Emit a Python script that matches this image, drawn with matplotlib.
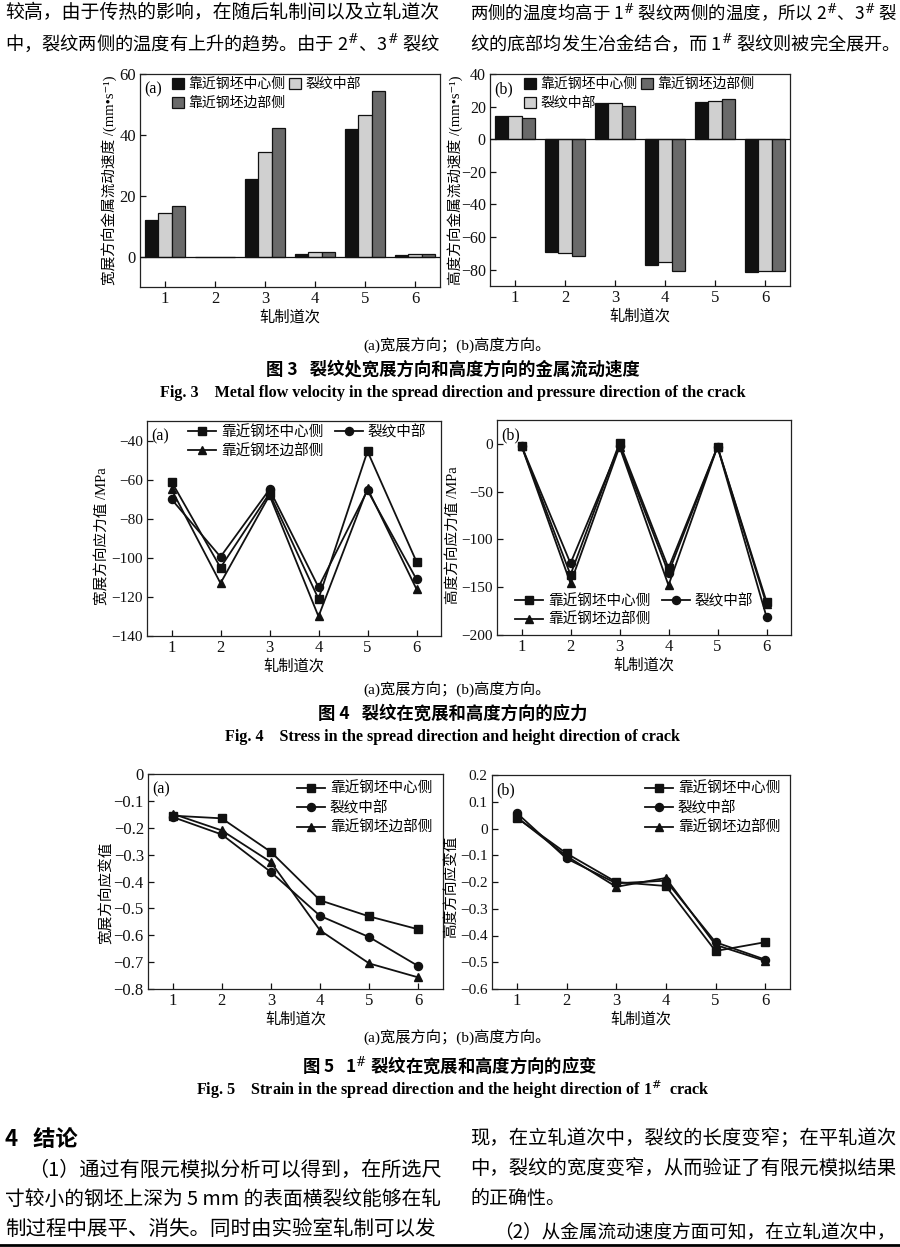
import matplotlib
matplotlib.use("Agg")
import matplotlib.pyplot as plt
import numpy as np
from matplotlib.ticker import FuncFormatter
from matplotlib.patches import Patch
from matplotlib.lines import Line2D

# ---------------- data ----------------
passes = [1, 2, 3, 4, 5, 6]
series_names = ['靠近钢坯中心侧', '裂纹中部', '靠近钢坯边部侧']

# Fig.3 metal flow velocity (mm/s)
vel_spread_center = [12.0, 0.0, 25.5, 1.0, 42.0, 0.5]
vel_spread_mid = [14.3, 0.0, 34.3, 1.4, 46.5, 0.8]
vel_spread_edge = [16.5, 0.0, 42.2, 1.4, 54.3, 0.7]
vel_height_center = [14.0, -69.0, 22.0, -77.0, 23.0, -81.5]
vel_height_mid = [14.0, -69.5, 22.5, -75.5, 23.5, -80.5]
vel_height_edge = [13.3, -71.5, 20.3, -81.0, 24.5, -80.5]

# Fig.4 stress (MPa)
stress_spread_center = [-61, -105, -67, -121, -45.5, -102]
stress_spread_mid = [-70, -99.5, -65, -115, -65.5, -111]
stress_spread_edge = [-65, -113, -68, -130, -64.5, -116]
stress_height_center = [-2, -137, 1, -130, -3, -165]
stress_height_mid = [-2, -125, -2, -135, -3, -181]
stress_height_edge = [-2, -146, -3, -148, -3, -168]

# Fig.5 strain
strain_spread_center = [-0.155, -0.165, -0.29, -0.47, -0.53, -0.578]
strain_spread_mid = [-0.16, -0.225, -0.365, -0.528, -0.607, -0.715]
strain_spread_edge = [-0.148, -0.21, -0.328, -0.582, -0.705, -0.757]
strain_height_center = [0.04, -0.093, -0.2, -0.215, -0.458, -0.425]
strain_height_mid = [0.058, -0.112, -0.205, -0.195, -0.425, -0.49]
strain_height_edge = [0.042, -0.103, -0.218, -0.185, -0.435, -0.495]

xlabel_text = '轧制道次'

# ---------------- style ----------------
W, H = 900, 1247
SERIF = ['Liberation Serif', 'Noto Sans CJK SC', 'DejaVu Sans']
CJK = ['Noto Sans CJK SC', 'DejaVu Sans']
plt.rcParams['font.family'] = SERIF
plt.rcParams['axes.unicode_minus'] = True
plt.rcParams['mathtext.fontset'] = 'dejavuserif'

fig = plt.figure(figsize=(W / 100, H / 100), dpi=100)
fig.patch.set_facecolor('white')


def px_axes(x0, y0, x1, y1):
    return fig.add_axes([x0 / W, 1 - y1 / H, (x1 - x0) / W, (y1 - y0) / H])


def fmt(v, p):
    s = '%g' % round(v, 3)
    return s.replace('-', '\u2212')


def style_axes(ax, ylim, yticks, ylab, ylab_x, ylab_y, xlab_y, label, tsize=12):
    ax.set_xlim(0.5, 6.5)
    ax.set_ylim(*ylim)
    ax.set_xticks(passes)
    ax.set_yticks(yticks)
    ax.yaxis.set_major_formatter(FuncFormatter(fmt))
    ax.tick_params(direction='in', length=4, width=0.9, labelsize=12,
                   top=False, right=False, pad=3, colors='#111111')
    ax.tick_params(axis='y', labelsize=tsize)
    for s in ax.spines.values():
        s.set_linewidth(0.9)
        s.set_color('#222222')
    ax.set_ylabel(ylab, fontsize=10.5, family=SERIF)
    ax.yaxis.set_label_coords(ylab_x, ylab_y)
    ax.set_xlabel(xlabel_text, fontsize=11, family=CJK)
    ax.xaxis.set_label_coords(0.5, xlab_y)
    ax.text(0.015, 0.965, label, transform=ax.transAxes, ha='left', va='top',
            fontsize=11.5, family=SERIF)


bar_colors = ['#111111', '#d0d0d0', '#6a6a6a']
bar_w = 0.267
x = np.array(passes, dtype=float)


def bar_panel(ax, series):
    for i, (vals, c) in enumerate(zip(series, bar_colors)):
        ax.bar(x + (i - 1) * bar_w, vals, width=bar_w, color=c,
               edgecolor='#111111', linewidth=0.9, zorder=2)
    ax.axhline(0, color='#111111', lw=0.9, zorder=3)


def bar_handles():
    return [Patch(facecolor=c, edgecolor='#111111', linewidth=0.9) for c in bar_colors]


markers = ['s', 'o', '^']


def line_panel(ax, series):
    for vals, m in zip(series, markers):
        ax.plot(x, vals, color='#111111', lw=1.3, marker=m, markersize=5.8,
                markerfacecolor='#111111', markeredgecolor='#111111', zorder=3)


def line_handles():
    return [Line2D([0], [0], color='#111111', lw=1.3, marker=m, markersize=5.8)
            for m in markers]


def place_legend(ax, handles, labels, fx, fy, ncol, fs, **kw):
    lg = ax.legend(handles, labels, loc='upper left',
                   bbox_to_anchor=(fx / W, 1 - fy / H), bbox_transform=fig.transFigure,
                   ncol=ncol, frameon=False, borderpad=0, borderaxespad=0,
                   prop={'family': CJK, 'size': fs}, **kw)
    return lg


# ---------------- Fig 3 ----------------
ax = px_axes(140, 74, 440, 287)
bar_panel(ax, [vel_spread_center, vel_spread_mid, vel_spread_edge])
style_axes(ax, (-10, 60), [0, 20, 40, 60], '宽展方向金属流动速度 /(mm•s⁻¹)',
           -0.078, 0.5, -0.1, '(a)')
h = bar_handles()
place_legend(ax, [h[0], h[2], h[1]], [series_names[0], series_names[2], series_names[1]],
             172, 77, 2, 10, handlelength=0.85, handleheight=0.85,
             handletextpad=0.3, columnspacing=0.3, labelspacing=0.35)

ax = px_axes(490, 74, 790, 286)
bar_panel(ax, [vel_height_center, vel_height_mid, vel_height_edge])
style_axes(ax, (-90, 40), [-80, -60, -40, -20, 0, 20, 40], '高度方向金属流动速度 /(mm•s⁻¹)',
           -0.09, 0.5, -0.1, '(b)', tsize=11.5)
place_legend(ax, h, series_names, 524, 77, 2, 10, handlelength=0.85, handleheight=0.85,
             handletextpad=0.3, columnspacing=0.3, labelspacing=0.35)

# ---------------- Fig 4 ----------------
ax = px_axes(147, 421, 441, 636)
line_panel(ax, [stress_spread_center, stress_spread_mid, stress_spread_edge])
style_axes(ax, (-140, -30), [-140, -120, -100, -80, -60, -40], '宽展方向应力值 /MPa',
           -0.126, 0.465, -0.1, '(a)', tsize=11)
lh = line_handles()
place_legend(ax, [lh[0], lh[2], lh[1]], [series_names[0], series_names[2], series_names[1]],
             188, 425, 2, 10.5, handlelength=1.9, handletextpad=0.35,
             columnspacing=0.8, labelspacing=0.35)

ax = px_axes(497, 420, 791, 635)
line_panel(ax, [stress_height_center, stress_height_mid, stress_height_edge])
style_axes(ax, (-200, 25), [-200, -150, -100, -50, 0], '高度方向应力值 /MPa',
           -0.128, 0.465, -0.1, '(b)', tsize=11)
place_legend(ax, [lh[0], lh[2], lh[1]], [series_names[0], series_names[2], series_names[1]],
             515, 594, 2, 10.5, handlelength=1.9, handletextpad=0.35,
             columnspacing=0.8, labelspacing=0.3)

# ---------------- Fig 5 ----------------
ax = px_axes(148, 774, 443, 989)
line_panel(ax, [strain_spread_center, strain_spread_mid, strain_spread_edge])
style_axes(ax, (-0.8, 0), [-0.8, -0.7, -0.6, -0.5, -0.4, -0.3, -0.2, -0.1, 0],
           '宽展方向应变值', -0.115, 0.447, -0.1, '(a)')
place_legend(ax, lh, series_names, 297, 782, 1, 10.5, handlelength=1.9,
             handletextpad=0.35, labelspacing=0.35)

ax = px_axes(492, 775, 790, 989)
line_panel(ax, [strain_height_center, strain_height_mid, strain_height_edge])
style_axes(ax, (-0.6, 0.2), [-0.6, -0.5, -0.4, -0.3, -0.2, -0.1, 0, 0.1, 0.2],
           '高度方向应变值', -0.113, 0.477, -0.1, '(b)', tsize=11)
place_legend(ax, lh, series_names, 645, 782, 1, 10.5, handlelength=1.9,
             handletextpad=0.35, labelspacing=0.35)

# ---------------- captions ----------------
def ftext(xp, yp, s, **kw):
    return fig.text(xp / W, 1 - yp / H, s, **kw)


for cy, zh, en in [
    (346, '图 3   裂纹处宽展方向和高度方向的金属流动速度',
     'Fig. 3    Metal flow velocity in the spread direction and pressure direction of the crack'),
    (690, '图 4   裂纹在宽展和高度方向的应力',
     'Fig. 4    Stress in the spread direction and height direction of crack'),
]:
    ftext(457, cy, '(a)宽展方向；(b)高度方向。', ha='center', va='center', fontsize=11, family=SERIF)
    ftext(453, cy + 24, zh, ha='center', va='center', fontsize=12.5, family=CJK, weight='bold')
    ftext(453, cy + 47, en, ha='center', va='center', fontsize=11.6, family=SERIF, weight='bold')

ftext(457, 1038, '(a)宽展方向；(b)高度方向。', ha='center', va='center', fontsize=11, family=SERIF)
ftext(450, 1066, '图 5   1$^{\\#}$ 裂纹在宽展和高度方向的应变', ha='center', va='center',
      fontsize=12.5, family='Noto Sans CJK SC', weight='bold')
ftext(453, 1090, 'Fig. 5    Strain in the spread direction and the height direction of 1$^{\\#}$  crack',
      ha='center', va='center', fontsize=11.6, family='Liberation Serif', weight='bold')

# ---------------- body text ----------------
BFS = 13.7
body = [
    # x, y, text, target width (None = natural)
    (5, 13, '较高，由于传热的影响，在随后轧制间以及立轧道次', 435),
    (5, 43, '中，裂纹两侧的温度有上升的趋势。由于 2$^{\\#}$、3$^{\\#}$ 裂纹', 435),
    (470, 13, '两侧的温度均高于 1$^{\\#}$ 裂纹两侧的温度，所以 2$^{\\#}$、3$^{\\#}$ 裂', 427),
    (470, 43, '纹的底部均发生冶金结合，而 1$^{\\#}$ 裂纹则被完全展开。', 420),
    (28, 1170, '（1）通过有限元模拟分析可以得到，在所选尺', 412),
    (5, 1199, '寸较小的钢坯上深为 5 mm 的表面横裂纹能够在轧', 435),
    (5, 1229, '制过程中展平、消失。同时由实验室轧制可以发', 435),
    (470, 1138, '现，在立轧道次中，裂纹的长度变窄；在平轧道次', 425),
    (470, 1168, '中，裂纹的宽度变窄，从而验证了有限元模拟结果', 425),
    (470, 1198, '的正确性。', None),
    (494, 1232, '（2）从金属流动速度方面可知，在立轧道次中，', 401),
]
fit_list = []
for bx, by, s, tw in body:
    fam = 'Noto Sans CJK SC' if '$' in s else CJK
    t = ftext(bx, by, s, ha='left', va='center', fontsize=BFS, family=fam)
    if tw is not None:
        fit_list.append((t, tw))

ftext(5, 1139, '4   结论', ha='left', va='center', fontsize=16, family=CJK, weight='bold')

fig.add_artist(Line2D([0, 1], [1 - 1245 / H, 1 - 1245 / H], transform=fig.transFigure,
                      color='black', lw=2))

# fit justified body lines to their column width
renderer = fig.canvas.get_renderer()
for t, tw in fit_list:
    wpx = t.get_window_extent(renderer).width
    scale = min(max(tw / wpx, 0.88), 1.08)
    t.set_fontsize(t.get_fontsize() * scale)

fig.savefig('out.png', dpi=100, facecolor='white')
